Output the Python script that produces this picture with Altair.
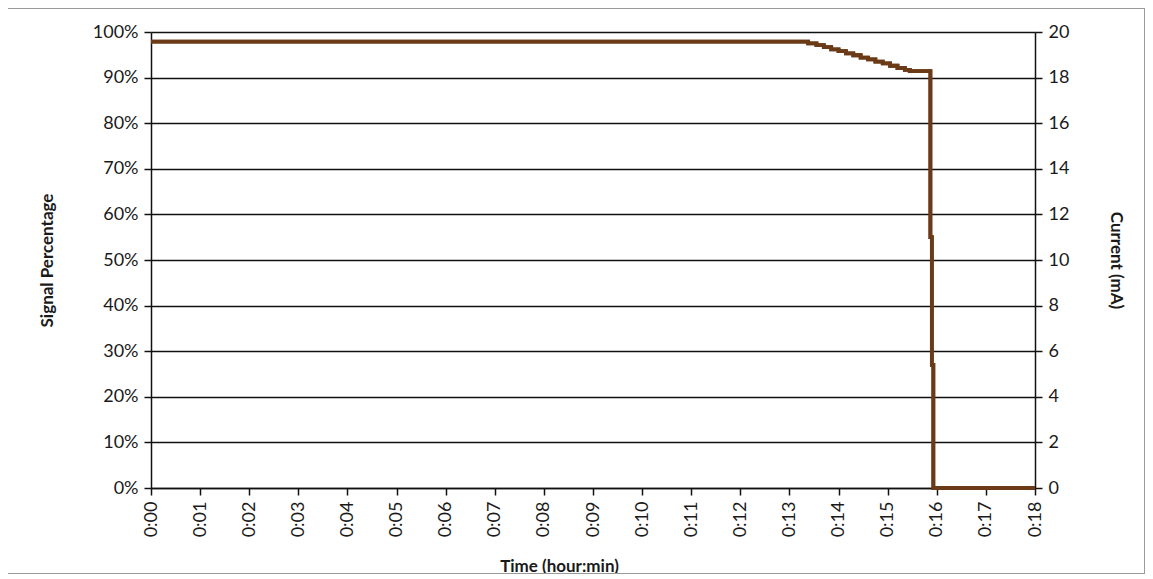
import altair as alt
import pandas as pd

# Time in minutes (0:00 .. 0:18)
time_min = [0.0, 13.38, 13.55, 13.70, 13.85, 14.00, 14.15, 14.30, 14.45, 14.60,
            14.75, 14.90, 15.05, 15.20, 15.35, 15.45, 15.87, 15.90, 15.93, 18.0]
# Signal percentage (fraction)
signal_pct = [0.979, 0.975, 0.971, 0.967, 0.962, 0.958, 0.953, 0.949, 0.944, 0.940,
              0.935, 0.931, 0.926, 0.921, 0.917, 0.914, 0.55, 0.27, 0.0, 0.0]
# Current (mA), right axis
current_ma = [19.58, 19.5, 19.42, 19.34, 19.24, 19.16, 19.06, 18.98, 18.88, 18.8,
              18.7, 18.62, 18.52, 18.42, 18.34, 18.28, 11.0, 5.4, 0.0, 0.0]

x_ticks = list(range(0, 19))
left_ticks = [i / 10 for i in range(0, 11)]
right_ticks = list(range(0, 21, 2))

df = pd.DataFrame({"t": time_min, "signal": signal_pct, "current": current_ma})

W, H = 884, 456
FONT = "Lato"
LINE_COLOR = "#6b3a16"

x_enc = alt.X(
    "t:Q",
    scale=alt.Scale(domain=[0, 18], nice=False, zero=False),
    axis=alt.Axis(
        values=x_ticks,
        labelExpr="'0:' + (datum.value < 10 ? '0' : '') + datum.value",
        labelAngle=270,
        labelAlign="right",
        labelBaseline="middle",
        labelPadding=6,
        grid=False,
        title="Time (hour:min)",
        titleX=408,
        titleY=70,
        titleBaseline="top",
        titleAlign="center",
    ),
)

signal_line = alt.Chart(df).mark_line(
    interpolate="step-after", color=LINE_COLOR, strokeWidth=3.8
).encode(
    x=x_enc,
    y=alt.Y(
        "signal:Q",
        scale=alt.Scale(domain=[0, 1], nice=False),
        axis=alt.Axis(
            values=left_ticks,
            format=".0%",
            grid=True,
            gridColor="#111111",
            gridWidth=1.5,
            title="Signal Percentage",
            titlePadding=36,
            orient="left",
        ),
    ),
)

current_line = alt.Chart(df).mark_line(
    interpolate="step-after", color=LINE_COLOR, strokeWidth=3.8
).encode(
    x=alt.X("t:Q", scale=alt.Scale(domain=[0, 18], nice=False, zero=False)),
    y=alt.Y(
        "current:Q",
        scale=alt.Scale(domain=[0, 20], nice=False),
        axis=alt.Axis(
            values=right_ticks,
            grid=False,
            title="Current (mA)",
            titlePadding=38,
            orient="right",
        ),
    ),
)

border = alt.Chart(df).mark_rect(
    fill=None, stroke="#9a9a9a", strokeWidth=2
).encode(
    x=alt.value(-144),
    x2=alt.value(W + 110),
    y=alt.value(-24),
    y2=alt.value(H + 86),
)

chart = (
    alt.layer(border, signal_line, current_line)
    .resolve_scale(y="independent")
    .properties(
        width=W,
        height=H,
        padding={"left": 143, "top": 24, "right": 110, "bottom": 86},
        autosize=alt.AutoSizeParams(type="none"),
    )
    .configure_view(stroke=None)
    .configure_axis(
        labelFont=FONT,
        labelFontSize=18,
        labelColor="#1a1a1a",
        titleFont=FONT,
        titleFontSize=17,
        titleFontWeight="bold",
        titleColor="#1a1a1a",
        domainColor="#111111",
        domainWidth=1.5,
        tickColor="#111111",
        tickWidth=1.5,
        tickSize=7,
        labelPadding=6,
    )
)

chart.save("out.html", embed_options={"renderer": "svg", "actions": False})
